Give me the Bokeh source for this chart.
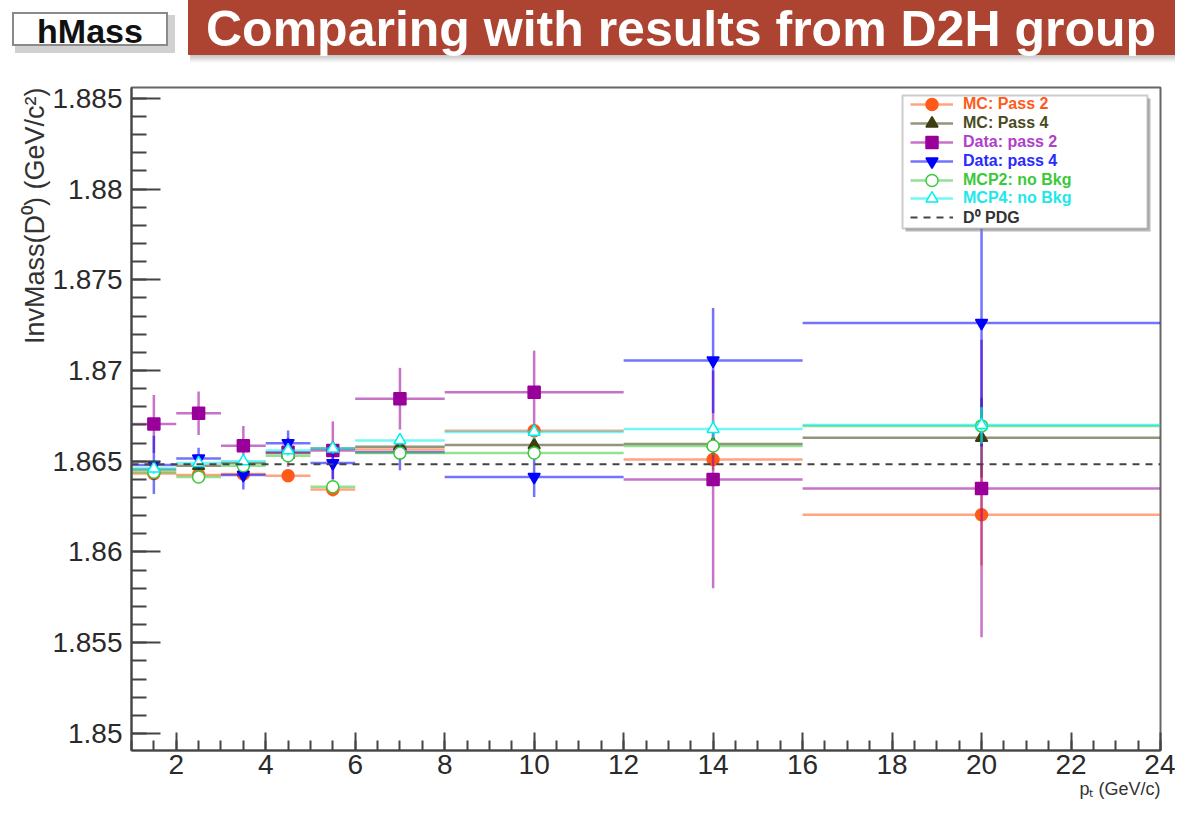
from bokeh.plotting import figure
from bokeh.models import (Range1d, SingleIntervalTicker, CustomJSTickFormatter, Legend,
                          LegendItem, BoxAnnotation, ColumnDataSource, Title, Div)
from bokeh.layouts import column
from bokeh.embed import file_html
from bokeh.resources import INLINE

# ---------------- data ----------------
pt_lo = [1, 2, 3, 4, 5, 6, 8, 12, 16]
pt_hi = [2, 3, 4, 5, 6, 8, 12, 16, 24]
pt_mid = [1.5, 2.5, 3.5, 4.5, 5.5, 7, 10, 14, 20]

mc_pass2 = [1.86432, 1.86425, 1.86430, 1.86420, 1.86345, 1.86565, 1.86668, 1.86510, 1.86205]
mc_pass2_err = [0.0003, 0.0002, 0.0002, 0.0002, 0.0004, 0.0003, 0.0003, 0.0006, 0.0028]

mc_pass4 = [1.86455, 1.86475, 1.86490, 1.86545, 1.86570, 1.86580, 1.86590, 1.86595, 1.86630]
mc_pass4_err = [0.0003, 0.0002, 0.0002, 0.0003, 0.0003, 0.0003, 0.0004, 0.0006, 0.0022]

data_pass2 = [1.86705, 1.86765, 1.86585, 1.86550, 1.86560, 1.86845, 1.86880, 1.86400, 1.86350]
data_pass2_err = [0.0016, 0.0012, 0.0011, 0.0008, 0.0016, 0.0017, 0.0023, 0.0060, 0.0082]

data_pass4 = [1.86480, 1.86515, 1.86425, 1.86600, 1.86490, 1.86550, 1.86413, 1.87055, 1.87262]
data_pass4_err = [0.0016, 0.0006, 0.0008, 0.0007, 0.0009, 0.0010, 0.0011, 0.0029, 0.0068]

mcp2_nobkg = [1.86440, 1.86413, 1.86475, 1.86530, 1.86360, 1.86545, 1.86546, 1.86584, 1.86695]
mcp2_nobkg_err = [0.0003, 0.0002, 0.0002, 0.0003, 0.0003, 0.0003, 0.0004, 0.0005, 0.0010]

mcp4_nobkg = [1.86460, 1.86490, 1.86500, 1.86560, 1.86570, 1.86615, 1.86662, 1.86678, 1.86700]
mcp4_nobkg_err = [0.0003, 0.0002, 0.0002, 0.0003, 0.0003, 0.0003, 0.0004, 0.0005, 0.0010]

pdg_mass = 1.86484

series_names = ["MC: Pass 2", "MC: Pass 4", "Data: pass 2", "Data: pass 4",
                "MCP2: no Bkg", "MCP4: no Bkg"]
pdg_name = "D\u2070 PDG"

title_text = "Comparing with results from D2H group"
box_text = "hMass"
y_label = "InvMass(D\u2070) (GeV/c\u00b2)"
x_label = "p\u209c (GeV/c)"

FONT = "Liberation Sans"
W = 1175
H_TOP = 70
H_MAIN = 805 - H_TOP

# ---------------- header (slide banner) ----------------
header_html = f"""
<div style="position:relative;width:{W}px;height:{H_TOP}px;overflow:hidden;background:#ffffff;
            font-family:'Liberation Sans',Arial,sans-serif;">
  <div style="position:absolute;left:190px;top:52px;width:1100px;height:11px;
              background:linear-gradient(rgba(0,0,0,0.32),rgba(0,0,0,0));"></div>
  <div style="position:absolute;left:188px;top:0px;width:1100px;height:55px;background:#ad4331;"></div>
  <div style="position:absolute;left:206px;top:4px;height:50px;line-height:50px;font-size:50px;
              font-weight:bold;color:#ffffff;white-space:nowrap;">{title_text}</div>
  <div style="position:absolute;left:15px;top:15px;width:160px;height:38px;
              background:rgba(0,0,0,0.18);"></div>
  <div style="position:absolute;left:12px;top:12px;width:156px;height:34px;border:2px solid #8a8a8a;
              background:#ffffff;text-align:center;font-size:34px;line-height:34px;font-weight:bold;
              color:#111111;">{box_text}</div>
</div>
"""
header = Div(text=header_html, width=W, height=H_TOP, margin=0)

# ---------------- main plot ----------------
X0, X1 = 1, 24
Y0, Y1 = 1.84906, 1.8856
FL, FR, FT, FB = 131, 1160, 87, 750   # frame edges in picture pixels


def px_x(px):
    return X0 + (px - FL) * (X1 - X0) / (FR - FL)


def px_y(py):
    return Y1 - (py - FT) * (Y1 - Y0) / (FB - FT)


p = figure(width=W, height=H_MAIN, x_range=Range1d(X0, X1), y_range=Range1d(Y0, Y1),
           toolbar_location=None, output_backend="svg", title=None,
           min_border_left=FL, min_border_right=W - FR,
           min_border_top=FT - H_TOP, min_border_bottom=805 - FB)
p.grid.visible = False
p.background_fill_color = "white"
p.border_fill_color = "white"
p.outline_line_color = "#666666"
p.outline_line_width = 2

p.xaxis.ticker = SingleIntervalTicker(interval=2, num_minor_ticks=4)
p.yaxis.ticker = SingleIntervalTicker(interval=0.005, num_minor_ticks=5)
p.yaxis.formatter = CustomJSTickFormatter(code="return String(Number(tick.toFixed(4)));")
for ax in (p.xaxis[0], p.yaxis[0]):
    ax.axis_line_color = "#444444"
    ax.axis_line_width = 2
    ax.major_tick_line_color = "#444444"
    ax.major_tick_line_width = 2
    ax.minor_tick_line_color = "#444444"
    ax.minor_tick_line_width = 2
    ax.major_tick_out = 0
    ax.minor_tick_out = 0
    ax.major_label_text_font = FONT
    ax.major_label_text_font_size = "28px"
    ax.major_label_text_color = "#2a2a2a"
p.yaxis.major_tick_in = 29
p.yaxis.minor_tick_in = 15
p.yaxis.major_label_standoff = 9
p.xaxis.major_tick_in = 18
p.xaxis.minor_tick_in = 10
p.xaxis.major_label_standoff = 4

styles = [
    # color, marker, fill, text color
    ("#ff5a1a", "circle", "#ff5a1a", "#ff5a1a"),
    ("#3d3d12", "triangle", "#3d3d12", "#4a4a22"),
    ("#990099", "square", "#990099", "#b040c8"),
    ("#0000ff", "inverted_triangle", "#0000ff", "#2a2aff"),
    ("#3cc83c", "circle", "white", "#3cc83c"),
    ("#00f0f0", "triangle", "white", "#20e8e8"),
]
values = [mc_pass2, mc_pass4, data_pass2, data_pass4, mcp2_nobkg, mcp4_nobkg]
errors = [mc_pass2_err, mc_pass4_err, data_pass2_err, data_pass4_err, mcp2_nobkg_err, mcp4_nobkg_err]

legend_entries = []
for name, vals, errs, (col, mk, fill, tcol) in zip(series_names, values, errors, styles):
    src = ColumnDataSource(dict(lo=pt_lo, hi=pt_hi, mid=pt_mid, y=vals,
                                ylo=[v - e for v, e in zip(vals, errs)],
                                yhi=[v + e for v, e in zip(vals, errs)]))
    h = p.segment(x0="lo", x1="hi", y0="y", y1="y", source=src, line_color=col,
                  line_alpha=0.55, line_width=2.5)
    p.segment(x0="mid", x1="mid", y0="ylo", y1="yhi", source=src, line_color=col,
              line_alpha=0.55, line_width=2.5)
    m = p.scatter(x="mid", y="y", source=src, marker=mk, size=12, fill_color=fill,
                  line_color=col, line_width=1.5)
    legend_entries.append((name, [h, m], tcol))

pdg = p.segment(x0=[pt_lo[0]], x1=[pt_hi[-1]], y0=[pdg_mass], y1=[pdg_mass],
                line_color="#444444", line_width=2, line_dash="7 6")
legend_entries.append((pdg_name, [pdg], "#333333"))

# legend frame (with ROOT-like shadow)
LB_L, LB_R, LB_T, LB_B = 902, 1147, 95, 228
p.add_layout(BoxAnnotation(left=px_x(LB_L + 3), right=px_x(LB_R + 3), top=px_y(LB_T + 3),
                           bottom=px_y(LB_B + 3), fill_color="#888888", fill_alpha=0.6,
                           line_color=None))
p.add_layout(BoxAnnotation(left=px_x(LB_L), right=px_x(LB_R), top=px_y(LB_T),
                           bottom=px_y(LB_B), fill_color="white", fill_alpha=1.0,
                           line_color="#555555", line_width=2))

ROW0, ROWSTEP, GH = 104.3, 18.8, 30
for i, (name, rends, tcol) in enumerate(legend_entries):
    cy = ROW0 + i * ROWSTEP
    leg = Legend(items=[LegendItem(label=name, renderers=rends)],
                 location=(910 - FL, FB - (cy + GH / 2)),
                 padding=0, margin=0, spacing=0, glyph_width=43, glyph_height=GH,
                 label_height=GH, label_standoff=10, label_text_font=FONT,
                 label_text_font_size="16px", label_text_font_style="bold",
                 label_text_color=tcol, label_text_baseline="middle",
                 border_line_color=None, background_fill_alpha=0)
    p.add_layout(leg)

# axis titles (ROOT style: aligned to the end of the axis)
p.add_layout(Title(text=y_label, align="right", text_font=FONT, text_font_size="27px",
                   text_font_style="normal", text_color="#333333", standoff=0, offset=0),
             "left")
p.add_layout(Title(text=x_label, align="right", text_font=FONT, text_font_size="18px",
                   text_font_style="normal", text_color="#333333", standoff=0, offset=0),
             "below")

layout = column(header, p, spacing=0)
open("out.html", "w").write(file_html(layout, INLINE))
